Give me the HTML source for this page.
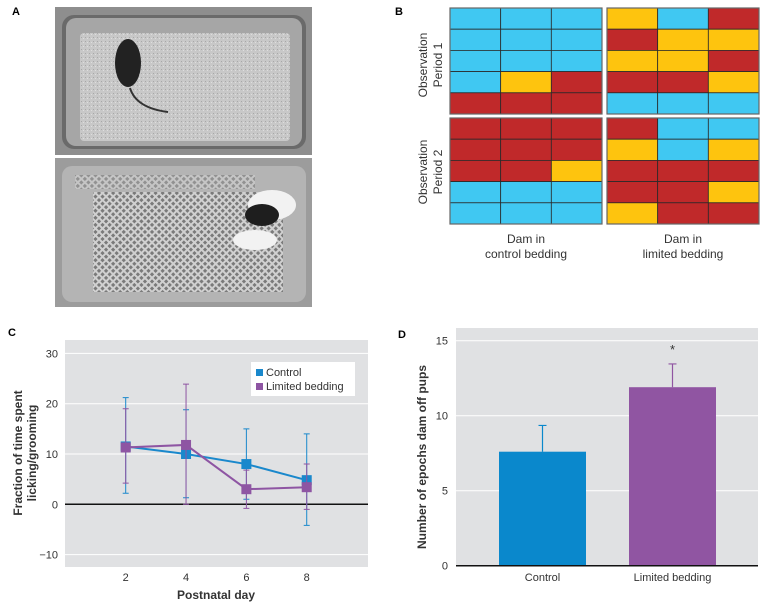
<!DOCTYPE html>
<html><head><meta charset="utf-8"><style>
html,body{margin:0;padding:0;background:#fff;}
svg{display:block;font-family:"Liberation Sans",sans-serif;}
</style></head><body>
<svg width="764" height="606" viewBox="0 0 764 606">
<defs>
<pattern id="mesh" width="5" height="5" patternUnits="userSpaceOnUse" patternTransform="rotate(45)">
<rect width="5" height="5" fill="#d0d0d0"/>
<rect width="3" height="3" fill="#7a7a7a"/>
</pattern>
<pattern id="speck" width="4" height="4" patternUnits="userSpaceOnUse">
<rect width="4" height="4" fill="#c8c8c8"/>
<rect x="1" y="1" width="1" height="1" fill="#a8a8a8"/>
<rect x="3" y="2" width="1" height="1" fill="#dedede"/>
</pattern>
</defs>
<!-- Panel A -->
<text x="12" y="15" font-size="11" font-weight="bold">A</text>
<g>
<rect x="55" y="7" width="257" height="148" fill="#8e8e8e"/>
<rect x="62" y="15" width="244" height="134" rx="12" fill="#6a6a6a"/>
<rect x="66" y="18" width="236" height="128" rx="10" fill="#a6a6a6"/>
<rect x="80" y="33" width="210" height="108" rx="4" fill="url(#speck)"/>
<ellipse cx="128" cy="63" rx="13" ry="24" fill="#222"/>
<path d="M130 88 Q136 108 168 112" stroke="#333" stroke-width="2" fill="none"/>
</g>
<g>
<rect x="55" y="158" width="257" height="149" fill="#9c9c9c"/>
<rect x="62" y="166" width="244" height="136" rx="10" fill="#b4b4b4"/>
<rect x="93" y="192" width="190" height="100" fill="url(#mesh)"/>
<rect x="75" y="175" width="180" height="14" fill="url(#mesh)" opacity="0.6"/>
<ellipse cx="272" cy="205" rx="24" ry="15" fill="#f2f2f2"/>
<ellipse cx="255" cy="240" rx="22" ry="10" fill="#f2f2f2"/>
<ellipse cx="262" cy="215" rx="17" ry="11" fill="#1e1e1e"/>
</g>
<!-- Panel B -->
<text x="395" y="15" font-size="11" font-weight="bold">B</text>
<g id="gridB"></g>
<text transform="translate(427,65) rotate(-90)" text-anchor="middle" font-size="12" fill="#333">Observation</text>
<text transform="translate(442,65) rotate(-90)" text-anchor="middle" font-size="12" fill="#333">Period 1</text>
<text transform="translate(427,172) rotate(-90)" text-anchor="middle" font-size="12" fill="#333">Observation</text>
<text transform="translate(442,172) rotate(-90)" text-anchor="middle" font-size="12" fill="#333">Period 2</text>
<text x="526" y="243" text-anchor="middle" font-size="12" fill="#333">Dam in</text>
<text x="526" y="258" text-anchor="middle" font-size="12" fill="#333">control bedding</text>
<text x="683" y="243" text-anchor="middle" font-size="12" fill="#333">Dam in</text>
<text x="683" y="258" text-anchor="middle" font-size="12" fill="#333">limited bedding</text>
<!-- Panel C -->
<text x="8" y="336" font-size="11" font-weight="bold">C</text>
<g id="chartC"></g>
<!-- Panel D -->
<text x="398" y="338" font-size="11" font-weight="bold">D</text>
<g id="chartD"></g>
</svg>
<script>
const NS="http://www.w3.org/2000/svg";
function mk(p,tag,at,txt){const e=document.createElementNS(NS,tag);for(const k in at)e.setAttribute(k,at[k]);if(txt!==undefined)e.textContent=txt;p.appendChild(e);return e;}

// Panel B grid data
const gridTL=["bbb","bbb","bbb","byr","rrr"];
const gridTR=["ybr","ryy","yyr","rry","bbb"];
const gridBL=["rrr","rrr","rry","bbb","bbb"];
const gridBR=["rbb","yby","rrr","rry","yrr"];
const colorMap={b:"#40c8f2",y:"#fec40e",r:"#c0292a"};
const gB=document.getElementById("gridB");
[[gridTL,450,8],[gridTR,607,8],[gridBL,450,118],[gridBR,607,118]].forEach(([g,x0,y0],gi)=>{
  const cw=152/3,rh=106/5;
  g.forEach((row,ri)=>{[...row].forEach((c,ci)=>{
    const r=mk(gB,"rect",{x:x0+ci*cw,y:y0+ri*rh,width:cw,height:rh,fill:colorMap[c],stroke:"#2a2a2a","stroke-width":0.8});
    
    
  });});
  const b=mk(gB,"rect",{x:x0,y:y0,width:152,height:106,fill:"none",stroke:"#666","stroke-width":1.2});
  
  
});

// Panel C data
const days=[2,4,6,8];
const controlMean=[11.5,10,8,4.8];
const controlHi=[21.2,18.8,15,14];
const controlLo=[2.2,1.3,1,-4.2];
const limitedMean=[11.3,11.8,3,3.4];
const limitedHi=[19,23.9,6.8,8];
const limitedLo=[4.2,0,-0.8,-1];
const yTicksC=[-10,0,10,20,30];
const xTicksC=[2,4,6,8];
const cx=d=>125.7+(d-2)*30.17, cy=v=>504.3-5.03*v;
const C=document.getElementById("chartC");
let e=mk(C,"rect",{x:65,y:340,width:303,height:227,fill:"#e0e1e3"});


yTicksC.forEach(t=>{
  const l=mk(C,"line",{x1:65,x2:368,y1:cy(t),y2:cy(t),stroke:t===0?"#111":"#fff","stroke-width":t===0?1.5:1});
  
  
  const tx=mk(C,"text",{x:58,y:cy(t)+4,"text-anchor":"end","font-size":11,fill:"#333"},t<0?"\u2212"+(-t):String(t));
  
  
});
xTicksC.forEach(d=>{
  const tx=mk(C,"text",{x:cx(d),y:581,"text-anchor":"middle","font-size":11,fill:"#333"},String(d));
  
  
});
e=mk(C,"text",{x:216,y:599,"text-anchor":"middle","font-size":12,"font-weight":"bold",fill:"#333"},"Postnatal day");


e=mk(C,"text",{transform:"translate(22,453) rotate(-90)","text-anchor":"middle","font-size":12,"font-weight":"bold",fill:"#333"},"Fraction of time spent");


e=mk(C,"text",{transform:"translate(36,453) rotate(-90)","text-anchor":"middle","font-size":12,"font-weight":"bold",fill:"#333"},"licking/grooming");


function series(mean,hi,lo,col,name){
  days.forEach((d,i)=>{
    const x=cx(d);
    const eb=mk(C,"path",{d:`M${x} ${cy(hi[i])}V${cy(lo[i])}M${x-3} ${cy(hi[i])}H${x+3}M${x-3} ${cy(lo[i])}H${x+3}`,stroke:col,"stroke-width":1,fill:"none"});
    
    
  });
  const ln=mk(C,"polyline",{points:days.map((d,i)=>cx(d)+","+cy(mean[i])).join(" "),stroke:col,"stroke-width":2,fill:"none"});
  
  
  days.forEach((d,i)=>{
    const p=mk(C,"rect",{x:cx(d)-5,y:cy(mean[i])-5,width:10,height:10,fill:col});
    
    
  });
}
series(controlMean,controlHi,controlLo,"#1a88cc","control");
series(limitedMean,limitedHi,limitedLo,"#8e55a3","limited");
e=mk(C,"rect",{x:251,y:362,width:104,height:34,fill:"#fff"});


e=mk(C,"rect",{x:256,y:369,width:7,height:7,fill:"#1a88cc"});


e=mk(C,"text",{x:266,y:376,"font-size":11,fill:"#333"},"Control");


e=mk(C,"rect",{x:256,y:383,width:7,height:7,fill:"#8e55a3"});


e=mk(C,"text",{x:266,y:390,"font-size":11,fill:"#333"},"Limited bedding");



// Panel D data
const barCategories=["Control","Limited bedding"];
const barValues=[7.6,11.9];
const barErrors=[9.35,13.45];
const yTicksD=[0,5,10,15];
const barColors=["#0a88cc","#9055a2"];
const dy=v=>565.7-15*v;
const D=document.getElementById("chartD");
e=mk(D,"rect",{x:456,y:328,width:302,height:238,fill:"#e0e1e3"});


yTicksD.forEach(t=>{
  if(t>0){const l=mk(D,"line",{x1:456,x2:758,y1:dy(t),y2:dy(t),stroke:"#fff","stroke-width":1});
  
  }
  const tx=mk(D,"text",{x:448,y:dy(t)+4,"text-anchor":"end","font-size":11,fill:"#333"},String(t));
  
  
});
const bw=87, bx=i=>499+i*130;
barCategories.forEach((c,i)=>{
  const x=bx(i), xm=x+bw/2;
  const eb=mk(D,"path",{d:`M${xm} ${dy(barValues[i])}V${dy(barErrors[i])}M${xm-4} ${dy(barErrors[i])}H${xm+4}`,stroke:barColors[i],"stroke-width":1.2,fill:"none"});
  
  
  const b=mk(D,"rect",{x:x,y:dy(barValues[i]),width:bw,height:dy(0)-dy(barValues[i]),fill:barColors[i]});
  
  
  const t=mk(D,"text",{x:xm,y:581,"text-anchor":"middle","font-size":11,fill:"#333"},c);
  
  
});
e=mk(D,"line",{x1:456,x2:758,y1:dy(0),y2:dy(0),stroke:"#111","stroke-width":1.5});


e=mk(D,"text",{x:bx(1)+bw/2,y:dy(barErrors[1])-10,"text-anchor":"middle","font-size":13,fill:"#333"},"*");


e=mk(D,"text",{transform:"translate(426,457) rotate(-90)","text-anchor":"middle","font-size":12,"font-weight":"bold",fill:"#333"},"Number of epochs dam off pups");


</script>
</body></html>
